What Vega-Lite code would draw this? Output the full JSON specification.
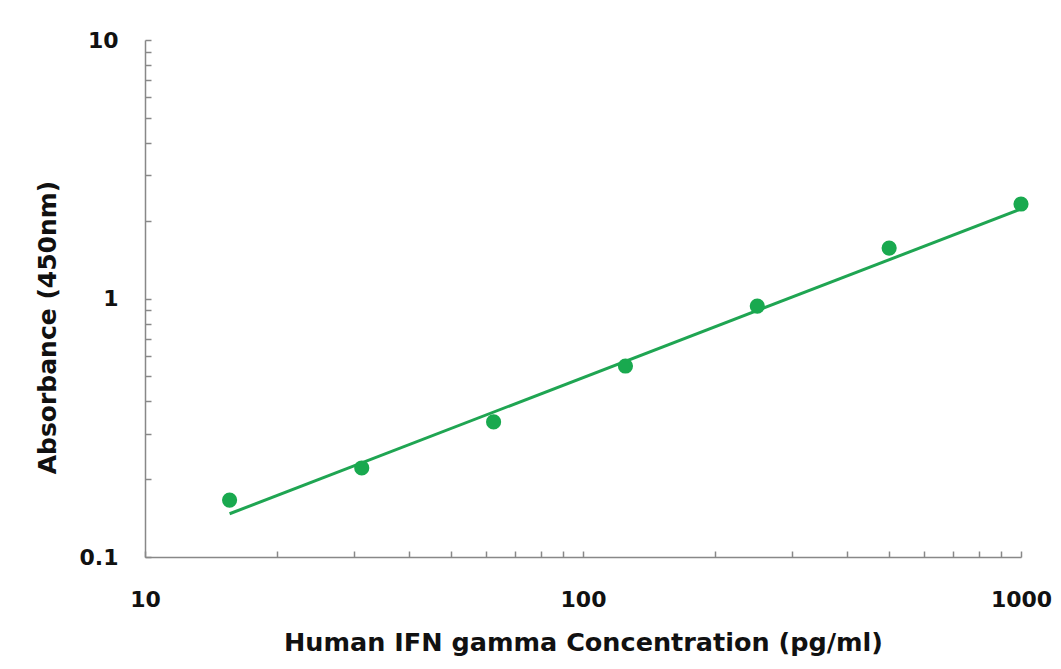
{
  "$schema": "https://vega.github.io/schema/vega-lite/v6.json",
  "autosize": "none",
  "width": 876,
  "height": 517,
  "padding": {"left": 145, "top": 40, "right": 40, "bottom": 112},
  "background": "white",
  "config": {
    "view": {"stroke": null},
    "axis": {
      "domainColor": "#888888",
      "domainWidth": 1.5,
      "tickColor": "#888888",
      "tickWidth": 1.5,
      "grid": false,
      "labelFont": "DejaVu Sans",
      "labelFontWeight": "bold",
      "labelFontSize": 22,
      "labelColor": "#111111",
      "titleFont": "DejaVu Sans",
      "titleFontWeight": "bold",
      "titleFontSize": 25.5,
      "titleColor": "#111111"
    }
  },
  "datasets": {
    "points": [
      {"conc": 15.6, "abs": 0.166},
      {"conc": 31.25, "abs": 0.221},
      {"conc": 62.5, "abs": 0.333},
      {"conc": 125, "abs": 0.548},
      {"conc": 250, "abs": 0.935},
      {"conc": 500, "abs": 1.567},
      {"conc": 1000, "abs": 2.32}
    ],
    "fit": [
      {"conc": 15.6, "abs": 0.147},
      {"conc": 1000, "abs": 2.22}
    ]
  },
  "layer": [
    {
      "data": {"name": "fit"},
      "mark": {"type": "line", "color": "#1fa552", "strokeWidth": 3},
      "encoding": {
        "x": {
          "field": "conc", "type": "quantitative",
          "scale": {"type": "log", "domain": [10, 1000], "nice": false},
          "title": "Human IFN gamma Concentration (pg/ml)",
          "axis": {
            "values": [10, 20, 30, 40, 50, 60, 70, 80, 90, 100, 200, 300, 400, 500, 600, 700, 800, 900, 1000],
            "labelExpr": "indexof([10, 100, 1000], datum.value) >= 0 ? '' + datum.value : ''",
            "tickSize": -6,
            "labelPadding": 38,
            "labelFlush": false,
            "labelOverlap": false,
            "titlePadding": 20
          }
        },
        "y": {
          "field": "abs", "type": "quantitative",
          "scale": {"type": "log", "domain": [0.1, 10], "nice": false},
          "title": "Absorbance (450nm)",
          "axis": {
            "values": [0.1, 0.2, 0.3, 0.4, 0.5, 0.6, 0.7, 0.8, 0.9, 1, 2, 3, 4, 5, 6, 7, 8, 9, 10],
            "labelExpr": "indexof([0.1, 1, 10], datum.value) >= 0 ? '' + datum.value : ''",
            "tickSize": -6,
            "labelPadding": 33,
            "labelFlush": false,
            "labelOverlap": false,
            "titlePadding": 19,
            "titleFontSize": 25,
            "titleY": 287
          }
        }
      }
    },
    {
      "data": {"name": "points"},
      "mark": {"type": "circle", "color": "#19a94f", "opacity": 1, "size": 230},
      "encoding": {
        "x": {"field": "conc", "type": "quantitative"},
        "y": {"field": "abs", "type": "quantitative"}
      }
    }
  ]
}
